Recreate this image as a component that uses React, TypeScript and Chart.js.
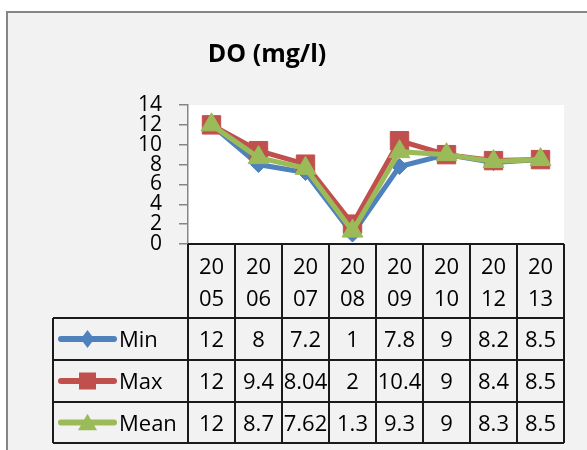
import React, { useEffect, useRef } from "react";
import { Chart, registerables } from "chart.js";

Chart.register(...registerables);

const chartTitle = "DO (mg/l)";
const years = ["2005", "2006", "2007", "2008", "2009", "2010", "2012", "2013"];
const seriesNames = ["Min", "Max", "Mean"];
const minValues = [12, 8, 7.2, 1, 7.8, 9, 8.2, 8.5];
const maxValues = [12, 9.4, 8.04, 2, 10.4, 9, 8.4, 8.5];
const meanValues = [12, 8.7, 7.62, 1.3, 9.3, 9, 8.3, 8.5];
const yMin = 0;
const yMax = 14;
const yStep = 2;

const seriesColors = ["#4F81BD", "#C0504D", "#9BBB59"];
const seriesShapes = ["rectRot", "rect", "triangle"];
const seriesRadius = [8, 13, 12];
const FONT = '"Open Sans", sans-serif';

function drawMarker(ctx: CanvasRenderingContext2D, shape: string, x: number, y: number, r: number) {
  ctx.beginPath();
  if (shape === "rectRot") {
    ctx.moveTo(x, y - r);
    ctx.lineTo(x + r * 0.75, y);
    ctx.lineTo(x, y + r);
    ctx.lineTo(x - r * 0.75, y);
  } else if (shape === "rect") {
    const s = r * Math.SQRT1_2;
    ctx.rect(x - s, y - s, 2 * s, 2 * s);
  } else {
    for (let k = 0; k < 3; k++) {
      const a = (k * 2 * Math.PI) / 3;
      const px = x + Math.sin(a) * r;
      const py = y - Math.cos(a) * r + r * 0.2;
      if (k === 0) ctx.moveTo(px, py);
      else ctx.lineTo(px, py);
    }
  }
  ctx.closePath();
  ctx.fill();
}

const backgroundPlugin = {
  id: "bgFrame",
  beforeDraw(chart: any) {
    const { ctx, width, height, chartArea } = chart;
    ctx.save();
    ctx.fillStyle = "#ffffff";
    ctx.fillRect(0, 0, width, height);
    ctx.fillStyle = "#f2f2f2";
    ctx.fillRect(7, 12, width - 7, height - 12);
    ctx.strokeStyle = "#868686";
    ctx.lineWidth = 2;
    ctx.beginPath();
    ctx.moveTo(7, height);
    ctx.lineTo(7, 12);
    ctx.lineTo(width, 12);
    ctx.stroke();
    ctx.fillStyle = "#ffffff";
    ctx.fillRect(chartArea.left, chartArea.top, chartArea.right - chartArea.left, chartArea.bottom - chartArea.top);
    ctx.fillStyle = "#000000";
    ctx.font = `bold 25px ${FONT}`;
    ctx.textAlign = "center";
    ctx.textBaseline = "alphabetic";
    ctx.fillText(chartTitle, 267, 62);
    ctx.restore();
  },
};

const tablePlugin = {
  id: "dataTable",
  afterDraw(chart: any) {
    const { ctx, chartArea } = chart;
    const xs = chart.scales.x;
    const n = years.length;
    const colW = (chartArea.right - chartArea.left) / n;
    const top = chartArea.bottom;
    const headerBottom = top + 74;
    const rowHeights = [42, 42, 41];
    const rowTops = [headerBottom, headerBottom + rowHeights[0], headerBottom + rowHeights[0] + rowHeights[1]];
    const bottom = rowTops[2] + rowHeights[2];
    const legendLeft = 53;
    const left = chartArea.left;
    const right = chartArea.right;
    const allValues = [minValues, maxValues, meanValues];

    ctx.save();
    ctx.strokeStyle = "#1a1a1a";
    ctx.lineWidth = 2;
    ctx.beginPath();
    ctx.moveTo(left, top);
    ctx.lineTo(right, top);
    for (const y of [...rowTops, bottom]) {
      ctx.moveTo(legendLeft, y);
      ctx.lineTo(right, y);
    }
    ctx.moveTo(legendLeft, headerBottom);
    ctx.lineTo(legendLeft, bottom);
    for (let i = 0; i <= n; i++) {
      const x = i < n ? xs.getPixelForValue(i) - colW / 2 : xs.getPixelForValue(n - 1) + colW / 2;
      ctx.moveTo(Math.round(x), top);
      ctx.lineTo(Math.round(x), bottom);
    }
    ctx.stroke();

    ctx.fillStyle = "#000000";
    ctx.font = `22px ${FONT}`;
    ctx.textAlign = "center";
    ctx.textBaseline = "alphabetic";
    years.forEach((yr, i) => {
      const cx = xs.getPixelForValue(i);
      ctx.fillText(yr.slice(0, 2), cx, top + 30);
      ctx.fillText(yr.slice(2), cx, top + 62);
      allValues.forEach((vals, r) => {
        ctx.fillText(String(vals[i]), cx, rowTops[r] + 29);
      });
    });

    seriesNames.forEach((name, r) => {
      const cy = rowTops[r] + rowHeights[r] / 2;
      ctx.strokeStyle = seriesColors[r];
      ctx.lineWidth = 6;
      ctx.lineCap = "round";
      ctx.beginPath();
      ctx.moveTo(61, cy);
      ctx.lineTo(114, cy);
      ctx.stroke();
      ctx.fillStyle = seriesColors[r];
      drawMarker(ctx, seriesShapes[r], 87.5, cy, [9, 12, 11][r]);
      ctx.fillStyle = "#000000";
      ctx.textAlign = "left";
      ctx.fillText(name, 119, rowTops[r] + 29);
    });
    ctx.restore();
  },
};

export default function App() {
  const canvasRef = useRef<HTMLCanvasElement | null>(null);

  useEffect(() => {
    if (!canvasRef.current) return;
    const valueSets = [minValues, maxValues, meanValues];
    const chart = new Chart(canvasRef.current, {
      type: "line",
      data: {
        labels: years,
        datasets: seriesNames.map((name, i) => ({
          label: name,
          data: valueSets[i],
          borderColor: seriesColors[i],
          backgroundColor: seriesColors[i],
          borderWidth: 5,
          pointStyle: seriesShapes[i] as any,
          pointRadius: seriesRadius[i],
          pointHoverRadius: seriesRadius[i],
          pointBorderWidth: 1,
          pointBorderColor: seriesColors[i],
          pointBackgroundColor: seriesColors[i],
          tension: 0,
          clip: false as any,
          order: 2 - i,
        })),
      },
      options: {
        responsive: false,
        animation: false,
        layout: { padding: { top: 105, bottom: 206, left: 0, right: 23 } },
        plugins: {
          legend: { display: false },
          title: { display: false },
          tooltip: { enabled: false },
        },
        scales: {
          x: {
            type: "category",
            display: false,
            offset: true,
          },
          y: {
            min: yMin,
            max: yMax,
            afterFit: (scale: any) => {
              scale.width = 188;
            },
            ticks: {
              stepSize: yStep,
              autoSkip: false,
              color: "#000000",
              font: { family: FONT, size: 21, lineHeight: 1 },
              padding: 17,
            },
            grid: {
              drawOnChartArea: false,
              drawTicks: true,
              tickLength: 9,
              color: "#868686",
              lineWidth: 1.5,
            },
            border: { color: "#868686", width: 1.5 },
          },
        },
      },
      plugins: [backgroundPlugin, tablePlugin],
    });
    return () => chart.destroy();
  }, []);

  return (
    <div style={{ position: "absolute", left: 0, top: 0, width: 587, height: 450 }}>
      <canvas ref={canvasRef} width={587} height={450} style={{ width: 587, height: 450, display: "block" }} />
    </div>
  );
}
